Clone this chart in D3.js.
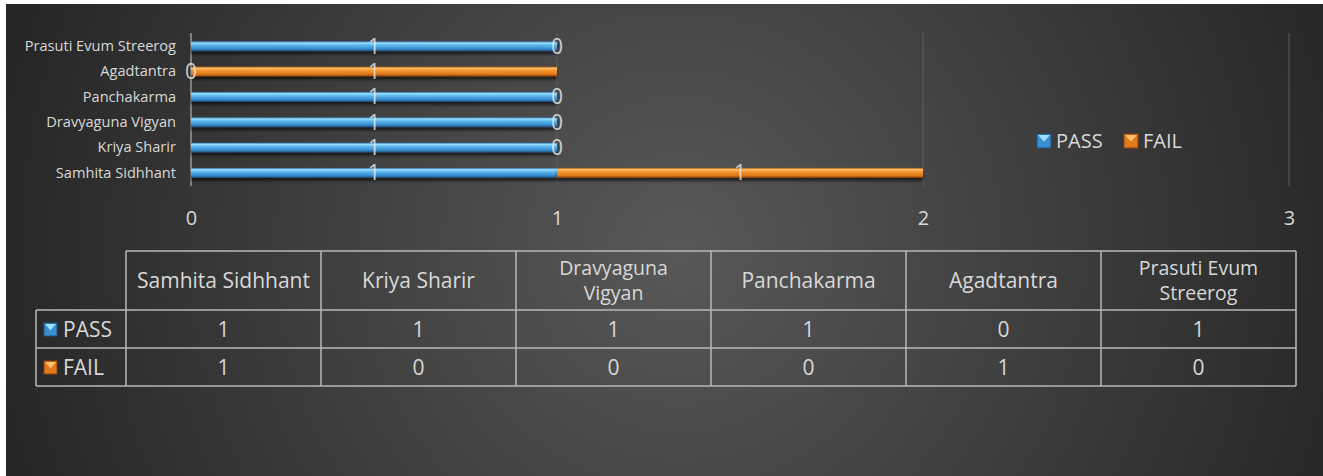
<!DOCTYPE html>
<html>
<head>
<meta charset="utf-8">
<script src="https://cdn.jsdelivr.net/npm/d3@7"></script>
<style>
  html, body { margin: 0; padding: 0; background: #ffffff; }
  svg { display: block; }
</style>
</head>
<body>
<svg id="chart" width="1323" height="476"></svg>
<script>
(function () {
  'use strict';

  // ---- Data ----
  const categories = ['Samhita Sidhhant', 'Kriya Sharir', 'Dravyaguna Vigyan', 'Panchakarma', 'Agadtantra', 'Prasuti Evum Streerog'];
  const seriesNames = ['PASS', 'FAIL'];
  const passValues = [1, 1, 1, 1, 0, 1];
  const failValues = [1, 0, 0, 0, 1, 0];
  const xTicks = [0, 1, 2, 3];
  const headerLines = [['Samhita Sidhhant'], ['Kriya Sharir'], ['Dravyaguna', 'Vigyan'], ['Panchakarma'], ['Agadtantra'], ['Prasuti Evum', 'Streerog']];

  const FONT = "'Open Sans', 'Noto Sans', sans-serif";
  const TEXT = '#d8d8d8';

  const svg = d3.select('#chart');
  const defs = svg.append('defs');

  // background
  const bg = defs.append('radialGradient').attr('id', 'bg')
    .attr('gradientUnits', 'userSpaceOnUse')
    .attr('cx', 680).attr('cy', 250).attr('r', 700);
  bg.append('stop').attr('offset', '0%').attr('stop-color', '#585858');
  bg.append('stop').attr('offset', '100%').attr('stop-color', '#262626');

  svg.append('rect').attr('x', 6).attr('y', 4).attr('width', 1317).attr('height', 472).attr('fill', 'url(#bg)');

  // bar gradients (tube look)
  const palettes = {
    PASS: ['#2a5f93', '#9ce0ff', '#5ab6ee', '#3a8fd0', '#21507e'],
    FAIL: ['#a4520f', '#ffc06a', '#f5952f', '#e07a1c', '#8a430c']
  };
  seriesNames.forEach(function (s) {
    const g = defs.append('linearGradient').attr('id', 'g-' + s)
      .attr('x1', 0).attr('y1', 0).attr('x2', 0).attr('y2', 1);
    const c = palettes[s];
    [[0, c[0]], [0.18, c[1]], [0.4, c[2]], [0.75, c[3]], [1, c[4]]].forEach(function (st) {
      g.append('stop').attr('offset', st[0]).attr('stop-color', st[1]);
    });
  });

  const shadow = defs.append('filter').attr('id', 'sh').attr('x', '-5%').attr('y', '-50%').attr('width', '110%').attr('height', '250%');
  shadow.append('feDropShadow').attr('dx', 0).attr('dy', 3).attr('stdDeviation', 1.6).attr('flood-color', '#000').attr('flood-opacity', 0.6);

  // ---- Scales ----
  const x = d3.scaleLinear().domain([0, 3]).range([191, 1289]);
  const y = d3.scaleBand().domain(categories.slice().reverse()).range([33.5, 185.5]).paddingInner(0.62).paddingOuter(0.31);
  const barH = 10;

  // gridlines
  svg.append('g').selectAll('line').data(xTicks).enter().append('line')
    .attr('x1', function (d) { return x(d); }).attr('x2', function (d) { return x(d); })
    .attr('y1', 33).attr('y2', 186)
    .attr('stroke', function (d) { return d === 0 ? '#9a9a9a' : '#5e5e5e'; })
    .attr('stroke-width', function (d) { return d === 0 ? 1.5 : 1; });

  // x axis labels
  const xAxis = d3.axisBottom(x).tickValues(xTicks).tickSize(0).tickPadding(0).tickFormat(d3.format('d'));
  const ax = svg.append('g').attr('transform', 'translate(0,211)').call(xAxis);
  ax.select('.domain').remove();
  ax.selectAll('text').attr('fill', TEXT).attr('font-size', 20).attr('font-family', FONT).attr('dy', '0.7em');

  // y axis labels
  const yAxis = d3.axisLeft(y).tickSize(0).tickPadding(15);
  const ay = svg.append('g').attr('transform', 'translate(191,0)').call(yAxis);
  ay.select('.domain').remove();
  ay.selectAll('text').attr('fill', TEXT).attr('font-size', 14.6).attr('font-family', FONT);

  // stacked data
  const rows = categories.map(function (c, i) { return { cat: c, PASS: passValues[i], FAIL: failValues[i] }; });
  const stacked = d3.stack().keys(seriesNames)(rows);

  const layers = svg.append('g').selectAll('g').data(stacked).enter().append('g');
  layers.selectAll('rect').data(function (s) { return s.map(function (d) { return { key: s.key, d: d }; }); })
    .enter().filter(function (o) { return o.d[1] - o.d[0] > 0; }).append('rect')
    .attr('x', function (o) { return x(o.d[0]); })
    .attr('width', function (o) { return x(o.d[1]) - x(o.d[0]); })
    .attr('y', function (o) { return y(o.d.data.cat) + y.bandwidth() / 2 - barH / 2; })
    .attr('height', barH)
    .attr('fill', function (o) { return 'url(#g-' + o.key + ')'; })
    .attr('filter', 'url(#sh)');

  // data labels
  const labels = svg.append('g');
  stacked.forEach(function (s) {
    s.forEach(function (d) {
      labels.append('text')
        .attr('x', x((d[0] + d[1]) / 2))
        .attr('y', y(d.data.cat) + y.bandwidth() / 2)
        .attr('dy', '0.36em')
        .attr('text-anchor', 'middle')
        .attr('fill', '#e6e6e6').attr('fill-opacity', 0.85)
        .attr('font-size', 21).attr('font-family', FONT)
        .text(d.data[s.key]);
    });
  });

  // legend key marker
  function marker(g, s, size) {
    const c = palettes[s];
    g.append('rect').attr('width', size).attr('height', size).attr('fill', c[3]).attr('stroke', c[4]).attr('stroke-width', 1);
    g.append('path').attr('d', 'M1,1 L' + (size - 1) + ',1 L' + size / 2 + ',' + size * 0.55 + ' Z').attr('fill', c[1]);
  }

  // legend
  const legendX = [1037, 1124];
  seriesNames.forEach(function (s, i) {
    const lg = svg.append('g').attr('transform', 'translate(' + legendX[i] + ',134)');
    marker(lg, s, 14);
    lg.append('text').attr('x', 19).attr('y', 7).attr('dy', '0.36em')
      .attr('fill', TEXT).attr('font-size', 20).attr('font-family', FONT).text(s);
  });

  // ---- Data table ----
  const col = d3.scaleBand().domain(categories).range([126, 1296]);
  const rowY = [251, 310, 348, 386];
  const tbl = svg.append('g').attr('stroke', '#b8b8b8').attr('stroke-width', 1.5);
  // horizontal lines
  tbl.append('line').attr('x1', 126).attr('x2', 1296).attr('y1', rowY[0]).attr('y2', rowY[0]);
  rowY.slice(1).forEach(function (yy) {
    tbl.append('line').attr('x1', 36).attr('x2', 1296).attr('y1', yy).attr('y2', yy);
  });
  // vertical lines
  tbl.append('line').attr('x1', 36).attr('x2', 36).attr('y1', rowY[1]).attr('y2', rowY[3]);
  categories.concat([null]).forEach(function (c) {
    const xx = c === null ? 1296 : col(c);
    tbl.append('line').attr('x1', xx).attr('x2', xx).attr('y1', rowY[0]).attr('y2', rowY[3]);
  });

  const tt = svg.append('g').attr('font-family', FONT).attr('font-size', 21).attr('fill', TEXT).attr('text-anchor', 'middle');
  categories.forEach(function (c, i) {
    const lines = headerLines[i];
    const cy = (rowY[0] + rowY[1]) / 2;
    const cx = col(c) + col.bandwidth() / 2;
    // each header line as its own text so wrapped lines stay apart
    lines.forEach(function (ln, k) {
      tt.append('text').attr('x', cx)
        .attr('y', cy + (k - (lines.length - 1) / 2) * 25.5).attr('dy', '0.36em')
        .attr('font-size', lines.length > 1 ? 19.5 : 21)
        .text(ln);
    });
    tt.append('text').attr('x', cx).attr('y', (rowY[1] + rowY[2]) / 2).attr('dy', '0.36em').text(passValues[i]);
    tt.append('text').attr('x', cx).attr('y', (rowY[2] + rowY[3]) / 2).attr('dy', '0.36em').text(failValues[i]);
  });

  seriesNames.forEach(function (s, i) {
    const yy = (rowY[i + 1] + rowY[i + 2]) / 2;
    const kg = svg.append('g').attr('transform', 'translate(44,' + (yy - 6) + ')');
    marker(kg, s, 13);
    svg.append('text').attr('x', 63).attr('y', yy).attr('dy', '0.36em')
      .attr('fill', TEXT).attr('font-size', 21).attr('font-family', FONT).text(s);
  });
})();
</script>
</body>
</html>
